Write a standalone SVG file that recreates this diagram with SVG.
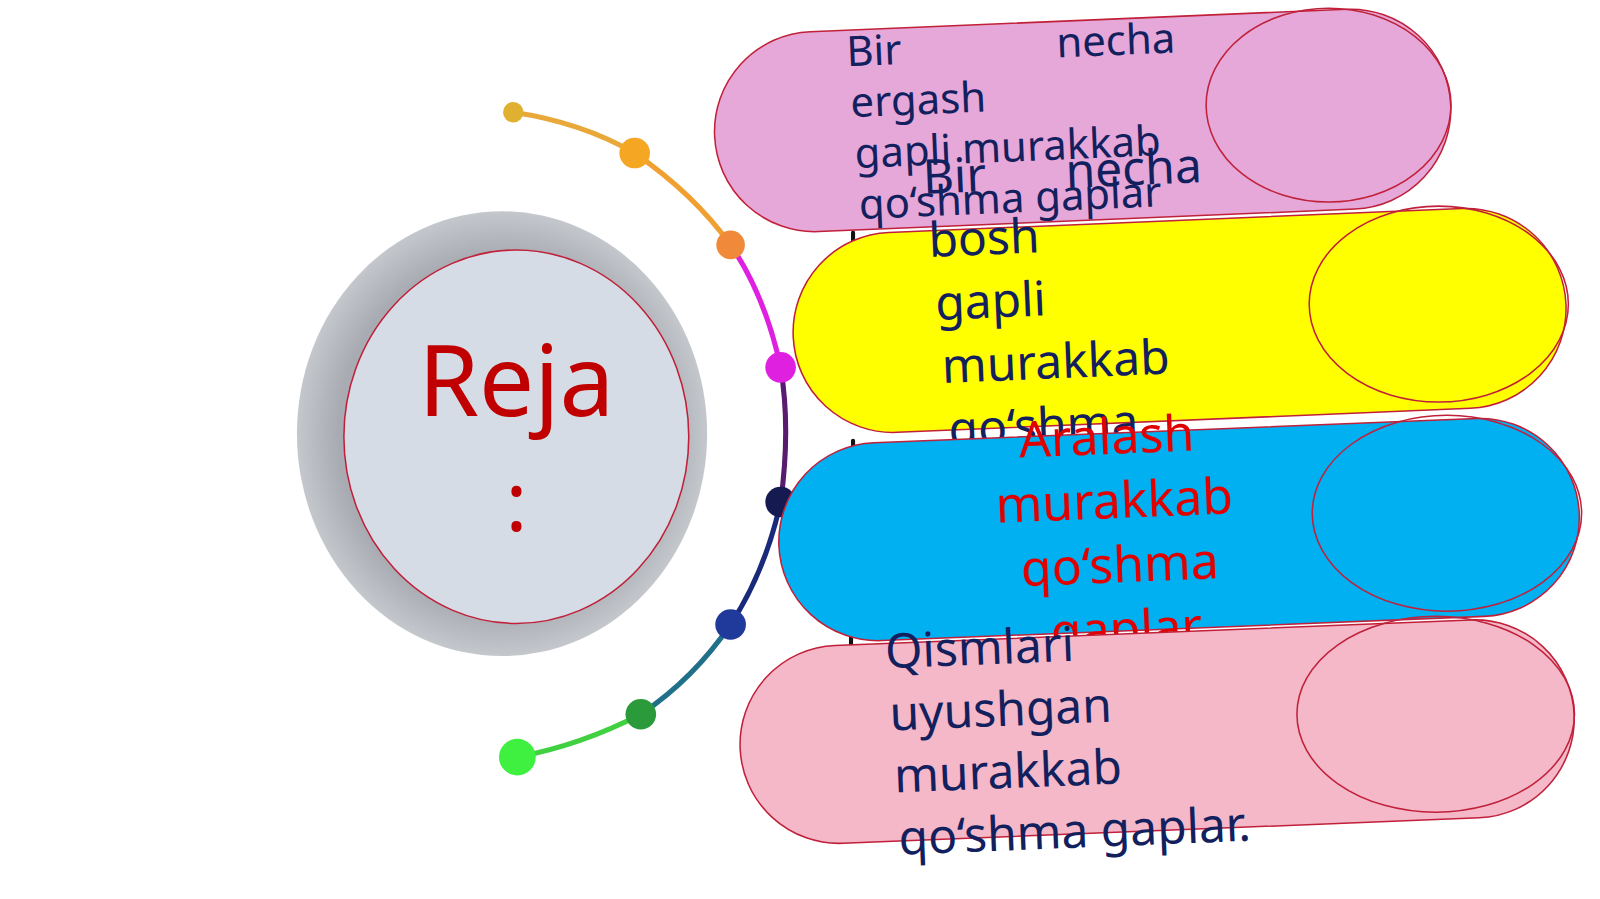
<svg xmlns="http://www.w3.org/2000/svg" width="1600" height="899" viewBox="0 0 1600 899">
<defs>
<style>
.pill{stroke:#c0203a;stroke-width:1.5}
.in{fill:none;stroke:#c0203a;stroke-width:1.5}
.nv{font-family:"Noto Sans","Open Sans",sans-serif;fill:#13205e}
.rd{font-family:"Noto Sans","Open Sans",sans-serif;fill:#e00000;text-anchor:middle}
</style>
<radialGradient id="ring" cx="0.5" cy="0.5" r="0.5">
<stop offset="0.8" stop-color="#a8acb2"/><stop offset="1" stop-color="#c4c7cc"/>
</radialGradient>
</defs>
<rect width="1600" height="899" fill="#ffffff"/>
<g transform="scale(1.0204)">
<g id="center">
<ellipse cx="492" cy="425" rx="201" ry="218" fill="url(#ring)"/>
<ellipse cx="506" cy="428" rx="169" ry="183" fill="#d6dce5" stroke="#c0203a" stroke-width="1.5"/>
<text x="506" y="408" font-family="'Noto Sans',sans-serif" font-size="96" fill="#c00000" text-anchor="middle">Reja</text>
<text x="506" y="520" font-family="'Noto Sans',sans-serif" font-size="80" fill="#c00000" text-anchor="middle">:</text>
</g>
<g id="connectors" fill="none" stroke-width="5" stroke-linecap="round">
<path d="M503 110 Q570 120 622 150" stroke="#e8a83a"/>
<path d="M622 150 Q680 190 716 240" stroke="#f0a030"/>
<path d="M716 240 Q750 290 765 360" stroke="#e020e0"/>
<path d="M765 360 Q775 420 765 492" stroke="#5a1a70"/>
<path d="M765 492 Q750 560 716 612" stroke="#1a2a7a"/>
<path d="M716 612 Q680 665 628 700" stroke="#20708a"/>
<path d="M628 700 Q570 730 507 742" stroke="#40d040"/>
<path d="M836 228 v22 M836 432 v20 M834 622 v20" stroke="#111" stroke-width="4"/>
<circle cx="503" cy="110" r="10" fill="#e0b030" stroke="none"/>
<circle cx="622" cy="150" r="15" fill="#f5a623" stroke="none"/>
<circle cx="716" cy="240" r="14" fill="#f08a3a" stroke="none"/>
<circle cx="765" cy="360" r="15" fill="#e020e0" stroke="none"/>
<circle cx="765" cy="492" r="15" fill="#151a50" stroke="none"/>
<circle cx="716" cy="612" r="15" fill="#1f3a9a" stroke="none"/>
<circle cx="628" cy="700" r="15" fill="#2a9a3a" stroke="none"/>
<circle cx="507" cy="742" r="18" fill="#40f040" stroke="none"/>
</g>
<g id="node1">
<rect class="pill" x="700" y="20" width="722" height="196" rx="98" fill="#e6a8d8" transform="rotate(-2.4 1061 118)"/>
<ellipse class="in" cx="1302" cy="103" rx="120" ry="95"/>
<g class="nv" font-size="41" transform="rotate(-2.4 830 65)">
<text x="830" y="65">Bir</text><text x="1036" y="65">necha</text>
<text x="832" y="115">ergash</text><text x="834" y="165">gapli murakkab</text><text x="836" y="215">qo‘shma gaplar</text>
</g>
</g>
<g id="node2">
<rect class="pill" x="777" y="216" width="758" height="196" rx="98" fill="#ffff00" transform="rotate(-2.4 1156 314)"/>
<ellipse class="in" cx="1410" cy="298" rx="127" ry="96"/>
<g class="nv" font-size="47" transform="rotate(-2.4 905 190)">
<text x="905" y="190">Bir</text><text x="1045" y="190">necha</text>
<text x="908" y="252">bosh</text><text x="912" y="314">gapli</text><text x="916" y="376">murakkab</text><text x="920" y="438">qo‘shma</text>
</g>
</g>
<g id="node3">
<rect class="pill" x="763" y="422" width="785" height="194" rx="97" fill="#00b0f0" transform="rotate(-2.3 1155 519)"/>
<ellipse class="in" cx="1418" cy="503" rx="132" ry="96"/>
<g class="rd" font-size="49" transform="rotate(-2.3 1085 445)">
<text x="1085" y="445">Aralash</text><text x="1090" y="508">murakkab</text><text x="1093" y="571">qo‘shma</text><text x="1097" y="634">gaplar</text>
</g>
</g>
<g id="node4">
<rect class="pill" x="725" y="620" width="818" height="194" rx="97" fill="#f4b8c8" transform="rotate(-2.3 1134 717)"/>
<ellipse class="in" cx="1407" cy="700" rx="136" ry="96"/>
<g class="nv" font-size="47" transform="rotate(-2.3 868 655)">
<text x="868" y="655">Qismlari</text><text x="870" y="716">uyushgan</text><text x="872" y="777">murakkab</text><text x="874" y="838">qo‘shma gaplar.</text>
</g>
</g>
</g>
</svg>
